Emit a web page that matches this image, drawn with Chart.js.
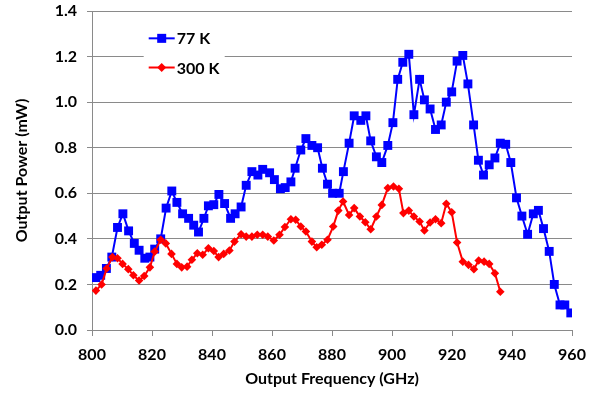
<!DOCTYPE html>
<html>
<head>
<meta charset="utf-8">
<script src="https://cdn.jsdelivr.net/npm/chart.js@4.4.1/dist/chart.umd.min.js"></script>
<style>
    html, body { margin: 0; padding: 0; background: #fff; }
    #box { width: 598px; height: 402px; }
</style>
</head>
<body>
<div id="box"><canvas id="c"></canvas></div>
<script>
// 77 K
const freq77 = [801.3, 802.9, 804.8, 806.6, 808.5, 810.3, 812.2, 814.1, 815.7, 817.6, 819.3, 820.9, 822.9, 824.7, 826.6, 828.3, 830.2, 832.2, 833.9, 835.5, 837.3, 838.8, 840.6, 842.3, 844.2, 846.2, 847.7, 849.7, 851.4, 853.3, 855.3, 856.9, 859.2, 860.8, 862.8, 864.4, 866.3, 867.7, 869.6, 871.3, 873.3, 875.2, 876.8, 878.5, 880.2, 882.4, 883.8, 885.7, 887.4, 889.6, 891.3, 892.9, 894.8, 896.6, 898.6, 900.3, 901.9, 903.6, 905.6, 907.3, 909.2, 910.8, 912.7, 914.5, 916.4, 918.1, 919.9, 921.7, 923.6, 925.3, 927.2, 928.8, 930.5, 932.4, 934.3, 936.1, 937.9, 939.6, 941.5, 943.3, 945.2, 947.1, 948.8, 950.5, 952.4, 954.1, 956.0, 957.6, 959.6]
const power77 = [0.23, 0.24, 0.27, 0.32, 0.45, 0.51, 0.435, 0.38, 0.35, 0.315, 0.32, 0.355, 0.40, 0.535, 0.61, 0.56, 0.51, 0.49, 0.46, 0.43, 0.49, 0.545, 0.55, 0.595, 0.555, 0.49, 0.51, 0.54, 0.635, 0.695, 0.68, 0.705, 0.69, 0.66, 0.62, 0.625, 0.65, 0.71, 0.79, 0.84, 0.81, 0.80, 0.71, 0.64, 0.60, 0.60, 0.695, 0.82, 0.94, 0.92, 0.94, 0.83, 0.76, 0.735, 0.81, 0.91, 1.10, 1.175, 1.21, 0.945, 1.10, 1.01, 0.97, 0.88, 0.90, 1.00, 1.045, 1.18, 1.205, 1.08, 0.90, 0.745, 0.68, 0.725, 0.755, 0.82, 0.815, 0.735, 0.58, 0.50, 0.42, 0.51, 0.525, 0.445, 0.345, 0.20, 0.11, 0.11, 0.075]
// 300 K
const freq300 = [801.3, 803.2, 804.9, 806.8, 808.5, 810.2, 812.1, 813.8, 815.7, 817.4, 819.3, 820.9, 822.9, 824.6, 826.5, 828.3, 829.9, 831.7, 833.3, 835.1, 836.9, 838.8, 840.6, 842.2, 843.9, 845.8, 847.5, 849.7, 851.4, 853.3, 855.1, 856.9, 858.6, 860.6, 862.5, 864.3, 866.3, 867.9, 869.6, 871.3, 873.3, 874.9, 876.6, 878.5, 880.4, 882.1, 883.7, 885.7, 887.4, 889.3, 891.1, 892.9, 894.8, 896.6, 898.6, 900.5, 902.3, 903.8, 905.6, 907.3, 909.2, 910.8, 912.7, 914.5, 916.4, 918.1, 919.9, 921.7, 923.6, 925.5, 927.3, 928.9, 930.7, 932.4, 934.3, 936.1]
const power300 = [0.173, 0.20, 0.27, 0.32, 0.315, 0.29, 0.267, 0.24, 0.217, 0.237, 0.275, 0.344, 0.396, 0.38, 0.334, 0.29, 0.275, 0.278, 0.308, 0.337, 0.33, 0.359, 0.347, 0.32, 0.334, 0.349, 0.388, 0.42, 0.41, 0.41, 0.418, 0.418, 0.41, 0.393, 0.418, 0.452, 0.486, 0.484, 0.454, 0.432, 0.388, 0.363, 0.374, 0.396, 0.454, 0.524, 0.564, 0.505, 0.535, 0.498, 0.473, 0.442, 0.498, 0.549, 0.623, 0.63, 0.62, 0.513, 0.524, 0.498, 0.476, 0.437, 0.472, 0.486, 0.469, 0.554, 0.517, 0.384, 0.30, 0.286, 0.267, 0.305, 0.30, 0.29, 0.249, 0.168]

const seriesNames = ['77 K', '300 K']

const xTicks = { min: 800, max: 960, step: 20 }
const yTicks = { min: 0, max: 1.4, step: 0.2 }

const FONT = 'Lato, "Open Sans", sans-serif'
const gridGray = '#8a8a8a'

function toPoints(xs, ys) {
    let arr = []
    for (let i = 0; i < xs.length; i++) {
        arr.push({ x: xs[i], y: ys[i] })
    }
    return arr
}

// legend inside the plot, top-left
const innerLegend = {
    id: 'innerLegend',
    afterDraw(chart) {
        const ctx = chart.ctx
        const xs = chart.scales.x
        const ys = chart.scales.y
        const x0 = xs.getPixelForValue(818.9)
        const rows = [ys.getPixelForValue(1.28), ys.getPixelForValue(1.152)]
        ctx.save()
        ctx.fillStyle = '#fff'
        ctx.fillRect(x0 - 5, rows[0] - 14, 81, rows[1] - rows[0] + 28)
        chart.data.datasets.forEach((ds, i) => {
            const y = rows[i]
            ctx.strokeStyle = ds.borderColor
            ctx.lineWidth = 2
            ctx.beginPath()
            ctx.moveTo(x0, y)
            ctx.lineTo(x0 + 26, y)
            ctx.stroke()
            ctx.fillStyle = ds.backgroundColor
            if (ds.pointStyle === 'rect') {
                ctx.fillRect(x0 + 13 - 4.5, y - 4.5, 9, 9)
            } else {
                ctx.beginPath()
                ctx.moveTo(x0 + 13 - 4.5, y)
                ctx.lineTo(x0 + 13, y - 4.5)
                ctx.lineTo(x0 + 13 + 4.5, y)
                ctx.lineTo(x0 + 13, y + 4.5)
                ctx.closePath()
                ctx.fill()
            }
            ctx.fillStyle = '#000'
            ctx.font = 'bold 16px ' + FONT
            ctx.textBaseline = 'middle'
            ctx.fillText(ds.label, x0 + 28, y + 1)
        })
        ctx.restore()
    }
}

const data = {
    datasets: [
        {
            label: seriesNames[0],
            data: toPoints(freq77, power77),
            borderColor: '#0000ff',
            backgroundColor: '#0000ff',
            borderWidth: 2,
            pointStyle: 'rect',
            pointRadius: 6.3,
            pointBorderWidth: 0,
            tension: 0,
            order: 2
        },
        {
            label: seriesNames[1],
            data: toPoints(freq300, power300),
            borderColor: '#ff0000',
            backgroundColor: '#ff0000',
            borderWidth: 2,
            pointStyle: 'rectRot',
            pointRadius: 4.3,
            pointBorderWidth: 0,
            tension: 0,
            order: 1
        }
    ]
}

const config = {
    type: 'line',
    data: data,
    options: {
        animation: false,
        responsive: true,
        maintainAspectRatio: false,
        devicePixelRatio: 1,
        layout: {
            padding: { top: 11, right: 26, bottom: 0, left: 0 }
        },
        plugins: {
            legend: { display: false },
            tooltip: { enabled: false }
        },
        scales: {
            x: {
                type: 'linear',
                min: xTicks.min,
                max: xTicks.max,
                afterFit: (s) => { s.height = 72; s.paddingLeft = 0; s.paddingRight = 0 },
                ticks: {
                    stepSize: xTicks.step,
                    color: '#000',
                    padding: 9,
                    font: { family: FONT, size: 16, weight: 'bold' }
                },
                grid: { drawOnChartArea: false, drawTicks: true, tickLength: 6, color: gridGray },
                border: { color: gridGray, width: 1 },
                title: {
                    display: true,
                    text: 'Output Frequency (GHz)',
                    color: '#000',
                    padding: { top: 0, bottom: 14 },
                    font: { family: FONT, size: 16, weight: 'bold' }
                }
            },
            y: {
                min: yTicks.min,
                max: yTicks.max,
                afterFit: (s) => { s.width = 92; s.paddingTop = 0; s.paddingBottom = 0 },
                ticks: {
                    stepSize: yTicks.step,
                    color: '#000',
                    padding: 10,
                    font: { family: FONT, size: 16, weight: 'bold' },
                    callback: (v) => v.toFixed(1)
                },
                grid: { color: gridGray, tickLength: 5 },
                border: { color: gridGray, width: 1 },
                title: {
                    display: true,
                    text: 'Output Power (mW)',
                    color: '#000',
                    padding: { top: 12, bottom: 0 },
                    font: { family: FONT, size: 16, weight: 'bold' }
                }
            }
        }
    },
    plugins: [innerLegend]
}

new Chart(document.getElementById('c'), config)
</script>
</body>
</html>
